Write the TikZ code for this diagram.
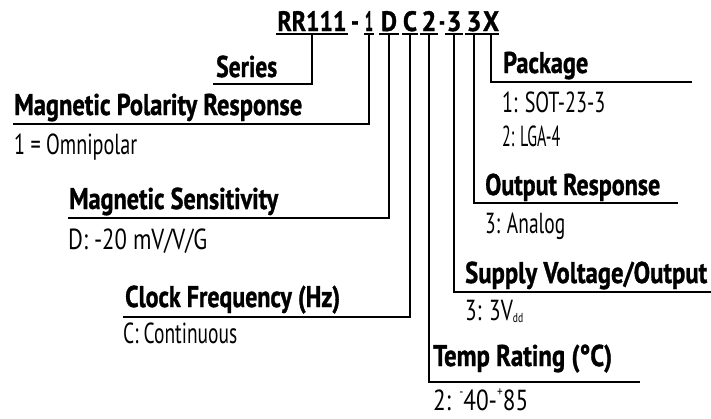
\documentclass[tikz,border=0pt]{standalone}
\usepackage{fontspec}
\usepackage{graphicx}
\usetikzlibrary{calc}
\newfontfamily\hfam{PT Sans}[BoldFeatures={FakeBold=1.2}]
\newfontfamily\bfam{PT Sans}
\newcommand\ttlfont{\hfam\bfseries\fontsize{28}{28}\selectfont}
\newcommand\hdfont{\hfam\bfseries\fontsize{30}{30}\selectfont}
\newcommand\bdfont{\bfam\fontsize{29}{29}\selectfont}
\newcommand\fitto[2]{\resizebox{#1pt}{\height}{#2}}
\newcommand\smsub[1]{\raisebox{-0.1em}{\fontsize{13}{13}\selectfont #1}}
\newcommand\smsup[1]{\raisebox{0.45em}{\fontsize{14}{14}\selectfont #1}}
\begin{document}
\begin{tikzpicture}[x=1pt,y=-1pt,
  ttl/.style={inner sep=0pt,anchor=base,font=\ttlfont},
  hd/.style={inner sep=0pt,anchor=base west,font=\hdfont},
  bd/.style={inner sep=0pt,anchor=base west,font=\bdfont},
  ln/.style={line width=1.2pt,black,line cap=butt}]
\useasboundingbox (0,0) rectangle (711,418);
% title pieces
\node[ttl,minimum width=71pt] (tRR) at (312,31) {\fitto{69}{RR111}};
\node[ttl] (tD1) at (355,31) {\fitto{8}{-}};
\node[ttl,minimum width=9pt] (t1) at (369,31) {\fitto{8}{1}};
\node[ttl,minimum width=20pt] (tD) at (389,31) {\fitto{16}{D}};
\node[ttl,minimum width=16pt] (tC) at (410,31) {\fitto{14}{C}};
\node[ttl,minimum width=18pt] (t2) at (429,31) {\fitto{15}{2}};
\node[ttl] (tD2) at (442,31) {\fitto{6}{-}};
\node[ttl,minimum width=18pt] (t3a) at (454,31) {\fitto{15}{3}};
\node[ttl,minimum width=17pt] (t3b) at (474,31) {\fitto{15}{3}};
\node[ttl,minimum width=15pt] (tX) at (491,31) {\fitto{16}{X}};
\foreach \n in {tRR,t1,tD,tC,t2,t3a,t3b,tX}
  \draw[ln] ($(\n.base west)+(0,3)$) -- ($(\n.base east)+(0,3)$);
% headings
\node[hd] (hSer) at (216,77) {\fitto{61}{Series}};
\node[hd] (hPol) at (14,115) {\fitto{288}{Magnetic Polarity Response}};
\node[hd] (hSen) at (69,209) {\fitto{209}{Magnetic Sensitivity}};
\node[hd] (hClk) at (125,307) {\fitto{215}{Clock Frequency (Hz)}};
\node[hd] (hTmp) at (433,366) {\fitto{179}{Temp Rating (°C)}};
\node[hd] (hSup) at (465,283) {\fitto{242}{Supply Voltage/Output}};
\node[hd] (hOut) at (485,195) {\fitto{175}{Output Response}};
\node[hd] (hPkg) at (503,73) {\fitto{85}{Package}};
% bodies
\node[bd] (bPol) at (14,154) {\fitto{123}{1 = Omnipolar}};
\node[bd] (bSen) at (68,249) {\fitto{139}{D: -20 mV/V/G}};
\node[bd] (bClk) at (123,343) {\fitto{114}{C: Continuous}};
\node[bd] (bPk1) at (502,112) {\fitto{103}{1: SOT-23-3}};
\node[bd] (bPk2) at (502,146) {\fitto{58}{2: LGA-4}};
\node[bd] (bOut) at (485,233) {\fitto{80}{3: Analog}};
\node[bd] (bSup) at (465,320) {\fitto{58}{3: 3V\smsub{dd}}};
\node[bd] (bTmp) at (433,410) {\fitto{95}{2: \smsup{-}40-\smsup{+}85}};
% line ends
\coordinate (eSer) at (213,84);
\coordinate (ePol) at (13,124);
\coordinate (eSen) at (68,218);
\coordinate (eClk) at (123,317);
\coordinate (eTmp) at (640,382);
\coordinate (eSup) at (711,292);
\coordinate (eOut) at (678,203);
\coordinate (ePkg) at (692,82);
% leaders
\draw[ln] ($(tRR.base)+(0,3)$) |- (eSer);
\draw[ln] ($(t1.base)+(0,3)$) |- (ePol);
\draw[ln] ($(tD.base)+(0,3)$) |- (eSen);
\draw[ln] ($(tC.base)+(0,3)$) |- (eClk);
\draw[ln] ($(t2.base)+(0,3)$) |- (eTmp);
\draw[ln] ($(t3a.base)+(0,3)$) |- (eSup);
\draw[ln] ($(t3b.base)+(0,3)$) |- (eOut);
\draw[ln] ($(tX.base)+(0,3)$) |- (ePkg);
\end{tikzpicture}
\end{document}
